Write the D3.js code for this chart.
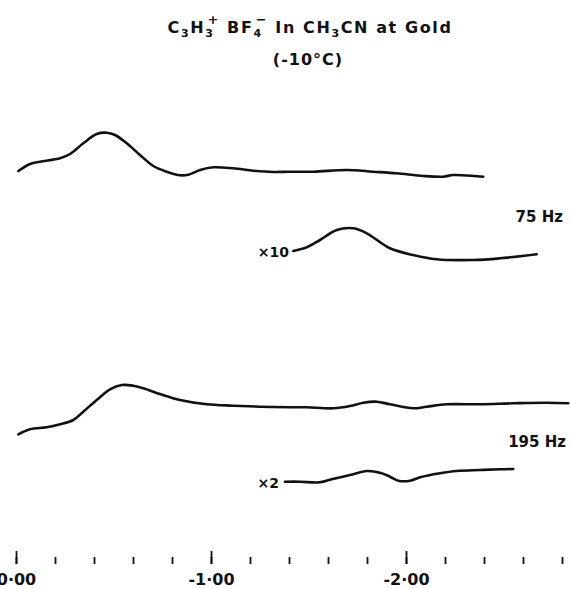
<!DOCTYPE html>
<html>
<head>
<meta charset="utf-8">
<script src="https://cdn.jsdelivr.net/npm/d3@7/dist/d3.min.js"></script>
<style>
  html, body { margin: 0; padding: 0; background: #fff; }
  svg { display: block; }
  text { font-family: "DejaVu Sans", sans-serif; fill: #111; }
</style>
</head>
<body>
<script>
// ---- Data (potential in V vs. signal, arbitrary units) ----
const trace75V   = [-0.012,-0.072,-0.123,-0.226,-0.277,-0.345,-0.414,-0.465,-0.508,-0.568,-0.636,-0.704,-0.773,-0.841,-0.884,-0.944,-1.012,-1.114,-1.217,-1.319,-1.405,-1.525,-1.696,-1.832,-1.952,-2.089,-2.191,-2.242,-2.396];
const trace75Y   = [9,16,18.3,21.7,26,36.7,46,47.3,45,36.7,25,14,8.3,4.7,5.3,10,12.7,11.7,9.3,8,8.3,8.3,10,8.3,6.7,4,3.3,5,3.3];

const trace75x10V = [-1.422,-1.491,-1.559,-1.645,-1.730,-1.799,-1.918,-2.036,-2.157,-2.345,-2.482,-2.670];
const trace75x10Y = [14,17.7,25,35,36.7,31.7,16.7,10,5.7,5,6.7,10.7];

const trace195V  = [-0.012,-0.072,-0.157,-0.226,-0.294,-0.345,-0.414,-0.482,-0.542,-0.601,-0.653,-0.738,-0.841,-0.978,-1.114,-1.251,-1.405,-1.491,-1.627,-1.713,-1.781,-1.850,-1.918,-2.037,-2.106,-2.209,-2.379,-2.550,-2.721,-2.832];
const trace195Y  = [5.7,10.7,12.7,15.7,20,28.3,40,50.7,55,54.3,51.7,46,40,35.7,34.3,33.3,32.7,32.7,31.7,34,37.3,38.3,35.7,31.7,33.3,35.7,35.7,36.7,37.3,36.7];

const trace195x2V = [-1.379,-1.456,-1.559,-1.619,-1.713,-1.799,-1.867,-1.918,-1.960,-2.021,-2.072,-2.174,-2.260,-2.379,-2.482,-2.550];
const trace195x2Y = [8.3,8.3,7.7,10.7,15,19,17.3,13.3,9.3,9.3,12.7,16.7,19,20,20.7,21];

const minorTicks = d3.range(0, 15).map(i => -0.2 * i);
const majorTicks = [0, -1, -2];
const majorTickLabels = ["0·00", "-1·00", "-2·00"];

const traceLabels = ["75 Hz", "195 Hz"];
const gainLabels = ["×10", "×2"];

// ---- Layout ----
const W = 571, H = 589;
const svg = d3.select("body").append("svg").attr("width", W).attr("height", H);

const x = d3.scaleLinear().domain([0, -2.8]).range([16, 562]);

// each trace gets its own vertical band (baseline in px), shared amplitude scale
function yFor(baseline) {
  return d3.scaleLinear().domain([0, 50]).range([baseline, baseline - 50]);
}

const traces = [
  { v: trace75V, s: trace75Y, base: 180 },
  { v: trace75x10V, s: trace75x10Y, base: 265 },
  { v: trace195V, s: trace195Y, base: 440 },
  { v: trace195x2V, s: trace195x2Y, base: 490 }
];

traces.forEach(t => {
  const y = yFor(t.base);
  const line = d3.line()
    .x((d, i) => x(t.v[i]))
    .y(d => y(d))
    .curve(d3.curveCatmullRom.alpha(0.5));
  svg.append("path")
    .attr("d", line(t.s))
    .attr("fill", "none")
    .attr("stroke", "#111")
    .attr("stroke-width", 2.6)
    .attr("stroke-linecap", "round")
    .attr("stroke-linejoin", "round");
});

// ---- Title ----
const title = svg.append("text")
  .attr("x", 310).attr("y", 33)
  .attr("text-anchor", "middle")
  .attr("font-size", 16).attr("font-weight", "bold")
  .attr("letter-spacing", 1.6);
title.append("tspan").text("C");
title.append("tspan").attr("dy", 4).attr("font-size", 11).text("3");
title.append("tspan").attr("dy", -4).text("H");
title.append("tspan").attr("dy", 4).attr("font-size", 11).text("3");
title.append("tspan").attr("dx", -7).attr("dy", -13).attr("font-size", 13).text("+");
title.append("tspan").attr("dy", 9).text(" BF");
title.append("tspan").attr("dy", 4).attr("font-size", 11).text("4");
title.append("tspan").attr("dx", -7).attr("dy", -13).attr("font-size", 13).text("−");
title.append("tspan").attr("dy", 9).text("  In CH");
title.append("tspan").attr("dy", 4).attr("font-size", 11).text("3");
title.append("tspan").attr("dy", -4).text("CN  at Gold");

svg.append("text")
  .attr("x", 308).attr("y", 65)
  .attr("text-anchor", "middle")
  .attr("font-size", 16).attr("font-weight", "bold")
  .attr("letter-spacing", 1)
  .text("(-10°C)");

// ---- Trace labels ----
svg.append("text").attr("x", 563).attr("y", 222).attr("text-anchor", "end")
  .attr("font-size", 15).attr("font-weight", "bold").text(traceLabels[0]);
svg.append("text").attr("x", 566).attr("y", 447).attr("text-anchor", "end")
  .attr("font-size", 15).attr("font-weight", "bold").text(traceLabels[1]);
svg.append("text").attr("x", 289).attr("y", 257).attr("text-anchor", "end")
  .attr("font-size", 14).attr("font-weight", "bold").text(gainLabels[0]);
svg.append("text").attr("x", 279).attr("y", 488).attr("text-anchor", "end")
  .attr("font-size", 14).attr("font-weight", "bold").text(gainLabels[1]);

// ---- Axis (ticks only, no domain line) ----
const axisY = 564;
const minorAxis = d3.axisBottom(x).tickValues(minorTicks).tickSizeInner(-7).tickSizeOuter(0).tickFormat("");
const gMinor = svg.append("g").attr("transform", `translate(0,${axisY})`).call(minorAxis);
gMinor.select(".domain").remove();

const majorAxis = d3.axisBottom(x).tickValues(majorTicks).tickSizeInner(-13).tickSizeOuter(0)
  .tickPadding(21)
  .tickFormat((d, i) => majorTickLabels[i]);
const gMajor = svg.append("g").attr("transform", `translate(0,${axisY})`).call(majorAxis);
gMajor.select(".domain").remove();
gMajor.selectAll("text").attr("dy", 0).attr("font-size", 16).attr("font-weight", "bold")
  .attr("font-family", "DejaVu Sans, sans-serif").attr("fill", "#111");
svg.selectAll(".tick line").attr("stroke", "#111").attr("stroke-width", 1.8);
</script>
</body>
</html>
